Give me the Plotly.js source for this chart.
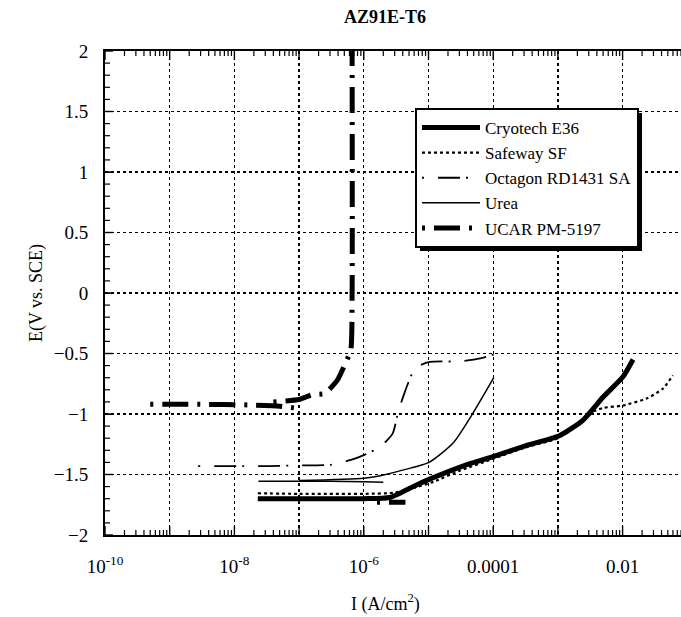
<!DOCTYPE html>
<html><head><meta charset="utf-8">
<script src="https://cdn.plot.ly/plotly-3.0.1.min.js"></script>
<style>html,body{margin:0;padding:0;background:#fff}</style>
</head><body><div id="chart" style="width:681px;height:617px"></div>
<script>
// ---- data (current density in A/cm^2, potential in V vs SCE) ----
const seriesNames = ["Cryotech E36", "Safeway SF", "Octagon RD1431 SA", "Urea", "UCAR PM-5197"];

const cryotechI = [2.3e-8, 1e-7, 1e-6, 2.5e-6, 4.1e-6, 6.3e-6, 1.02e-5, 3.4e-5, 1.02e-4, 3.3e-4, 1.05e-3, 2.45e-3, 5e-3, 1.02e-2, 1.45e-2];
const cryotechE = [-1.70, -1.70, -1.70, -1.69, -1.64, -1.59, -1.54, -1.43, -1.35, -1.26, -1.18, -1.05, -0.86, -0.69, -0.55];

const safewayI = [2.3e-8, 1e-7, 1e-6, 3e-6, 6e-6, 1.2e-5, 3e-5, 1e-4, 3e-4, 1e-3, 2.45e-3, 3.5e-3, 5e-3, 1e-2, 2.4e-2, 4.2e-2, 6e-2];
const safewayE = [-1.655, -1.66, -1.66, -1.65, -1.61, -1.56, -1.47, -1.37, -1.28, -1.20, -1.06, -0.98, -0.95, -0.93, -0.87, -0.79, -0.68];

const octagonI = [2.75e-9, 3.2e-8, 1e-7, 3e-7, 6.3e-7, 1e-6, 1.8e-6, 2.8e-6, 3.4e-6, 4.1e-6, 4.8e-6, 6.2e-6, 1.05e-5, 3e-5, 6.3e-5, 1.15e-4];
const octagonE = [-1.43, -1.43, -1.425, -1.42, -1.38, -1.34, -1.27, -1.16, -0.98, -0.85, -0.75, -0.62, -0.57, -0.565, -0.54, -0.50];

const ureaI = [2.35e-8, 1e-7, 3e-7, 1e-6, 2e-6, null, 1e-7, 1e-6, 1.8e-6, 3.6e-6, 1.02e-5, 2.4e-5, 4.9e-5, 1.02e-4];
const ureaE = [-1.555, -1.555, -1.555, -1.56, -1.565, null, -1.55, -1.53, -1.51, -1.47, -1.40, -1.24, -0.99, -0.70];

const ucarI = [5e-10, 3e-9, 1.6e-8, 5e-8, 1e-7, null, 4e-8, 1e-7, 1.6e-7, 2.5e-7, 3.9e-7, 5e-7, 6.3e-7, 6.6e-7, 6.6e-7, null, 1.6e-6, 4.4e-6];
const ucarE = [-0.92, -0.92, -0.925, -0.935, -0.955, null, -0.90, -0.88, -0.84, -0.83, -0.72, -0.60, -0.47, 0.0, 2.0, null, -1.73, -1.73];

// labelled decades and their tick labels
const xLabelVals = [1e-10, 1e-8, 1e-6, 1e-4, 1e-2];
const xLabelText = ["10<sup>-10</sup>", "10<sup>-8</sup>", "10<sup>-6</sup>", "0.0001", "0.01"];
// unlabelled decades (gridline + long tick)
const xOddDecades = [1e-9, 1e-7, 1e-5, 1e-3, 1e-1];

// minor log ticks (2..9 within every decade)
const xMinorVals = [];
for (let d = -10; d <= -1; d++) for (let k = 2; k <= 9; k++) xMinorVals.push(k * Math.pow(10, d));
// y ticks: major every 0.5, minor every 0.1
const yMajorVals = [-2, -1.5, -1, -0.5, 0, 0.5, 1, 1.5, 2];
const yMinorVals = [];
for (let k = -20; k <= 20; k++) if (k % 5 !== 0) yMinorVals.push(k / 10);

const FONT = "Liberation Serif, Times New Roman, serif";

const L = 105, R = 0, T = 51, B = 82, W = 681, H = 617;
const pw = W - L - R, ph = H - T - B;
const decadePx = 64.7;
const xMax = -10 + pw / decadePx;
const xRange = [-10, xMax];
const yRange = [-2, 2];

const lineStyle = {color: "#000", shape: "spline", smoothing: 0.6};
const traces = [
  {x: cryotechI, y: cryotechE, name: seriesNames[0], mode: "lines", line: Object.assign({}, lineStyle, {width: 5}), legendgroup: "a"},
  {x: safewayI, y: safewayE, name: seriesNames[1], mode: "lines", line: Object.assign({}, lineStyle, {width: 2.2, dash: "3px,3px"}), legendgroup: "b"},
  {x: octagonI, y: octagonE, name: seriesNames[2], mode: "lines", line: Object.assign({}, lineStyle, {width: 1.8, dash: "2px,14px,22px,6px"}), legendgroup: "c"},
  {x: ureaI, y: ureaE, name: seriesNames[3], mode: "lines", line: Object.assign({}, lineStyle, {width: 1.5}), legendgroup: "d"},
  {x: ucarI, y: ucarE, name: seriesNames[4], mode: "lines", line: Object.assign({}, lineStyle, {width: 5, dash: "3px,9px,26px,9px", smoothing: 0.5}), legendgroup: "e"},
  // empty trace that only carries the odd-decade grid axis
  {x: [], y: [], xaxis: "x2", yaxis: "y", showlegend: false, hoverinfo: "skip"}
];

const gridStyle = {showgrid: true, gridcolor: "#000", gridwidth: 1.3, griddash: "3px,3px"};

const lx0 = (415 - L) / pw, lyTop = (535 - 108) / ph;

const layout = {
  width: W, height: H,
  margin: {l: L, r: R, t: T, b: B},
  paper_bgcolor: "#fff", plot_bgcolor: "#fff",
  font: {family: FONT, color: "#000", size: 17},
  title: {text: "<b>AZ91E-T6</b>", font: {family: FONT, size: 18, color: "#000"}, xref: "container", x: 385 / W, xanchor: "center", yref: "container", y: 1 - 17 / H, yanchor: "middle"},
  xaxis: Object.assign({
    type: "log", range: xRange, autorange: false,
    tickmode: "array", tickvals: xLabelVals, ticktext: xLabelText,
    ticks: "inside", ticklen: 9, tickcolor: "#000", mirror: "allticks",
    showline: true, linecolor: "#000", linewidth: 2, zeroline: false,
    ticklabelstandoff: 13,
    tickfont: {family: FONT, size: 19, color: "#000"}
  }, gridStyle),
  xaxis2: Object.assign({
    type: "log", range: xRange, autorange: false, overlaying: "x", anchor: "y", side: "bottom",
    tickmode: "array", tickvals: xOddDecades, showticklabels: false,
    ticks: "", showline: false, zeroline: false
  }, gridStyle),
  yaxis: Object.assign({
    range: yRange, autorange: false, tickmode: "linear", dtick: 0.5, tick0: 0,
    ticks: "inside", ticklen: 8, tickcolor: "#000",
    showline: true, linecolor: "#000", linewidth: 2, zeroline: false,
    ticklabelstandoff: 11,
    tickfont: {family: FONT, size: 19, color: "#000"},
    title: {text: "E(V vs. SCE)", font: {family: FONT, size: 18, color: "#000"}, standoff: 6}
  }, gridStyle),
  annotations: [{
    text: "I (A/cm<sup>2</sup>)", xref: "paper", yref: "paper",
    x: (385 - L) / pw, y: (535 - 603) / ph, xanchor: "center", yanchor: "middle",
    showarrow: false, font: {family: FONT, size: 18, color: "#000"}
  }],
  showlegend: true,
  legend: {
    x: lx0, y: lyTop, xanchor: "left", yanchor: "top", xref: "paper", yref: "paper",
    bgcolor: "#fff", bordercolor: "#000", borderwidth: 2,
    font: {family: FONT, size: 17, color: "#000"},
    itemwidth: 58, tracegroupgap: 2, traceorder: "normal"
  }
};

Plotly.newPlot("chart", traces, layout, {displayModeBar: false, staticPlot: true}).then(function (gd) {
  const ns = "http://www.w3.org/2000/svg";
  // drop shadow behind the legend box
  const bg = gd.querySelector(".legend .bg");
  if (bg) {
    const bb = bg.getBBox();
    const leg = gd.querySelector(".legend");
    const sh = document.createElementNS(ns, "rect");
    sh.setAttribute("x", bb.x + 4); sh.setAttribute("y", bb.y + 4);
    sh.setAttribute("width", bb.width); sh.setAttribute("height", bb.height);
    sh.setAttribute("fill", "#000");
    leg.insertBefore(sh, leg.firstChild);
  }
  // inside tick marks placed through the library's own axis scales
  const xa = gd._fullLayout.xaxis, ya = gd._fullLayout.yaxis;
  const x0 = xa._offset, x1 = xa._offset + xa._length;
  const yTop = ya._offset, yBot = ya._offset + ya._length;
  const g = document.createElementNS(ns, "g");
  g.setAttribute("class", "tick-marks");
  function seg(xA, yA, xB, yB, w) {
    const l = document.createElementNS(ns, "line");
    l.setAttribute("x1", xA); l.setAttribute("y1", yA); l.setAttribute("x2", xB); l.setAttribute("y2", yB);
    l.setAttribute("stroke", "#000"); l.setAttribute("stroke-width", w);
    g.appendChild(l);
  }
  function xTicks(vals, len, w) {
    vals.forEach(function (v) {
      const px = xa._offset + xa.l2p(Math.log10(v));
      if (px < x0 - 0.5 || px > x1 + 0.5) return;
      seg(px, yBot, px, yBot - len, w);
      seg(px, yTop, px, yTop + len, w);
    });
  }
  function yTicks(vals, len, w) {
    vals.forEach(function (v) {
      const py = ya._offset + ya.l2p(v);
      seg(x0, py, x0 + len, py, w);
    });
  }
  xTicks(xLabelVals.concat(xOddDecades), 9, 1.4);
  xTicks(xMinorVals, 5, 1.2);
  yTicks(yMajorVals, 8, 1.4);
  yTicks(yMinorVals, 5, 1.2);
  gd.querySelector(".main-svg").appendChild(g);
});
</script>
</body></html>
